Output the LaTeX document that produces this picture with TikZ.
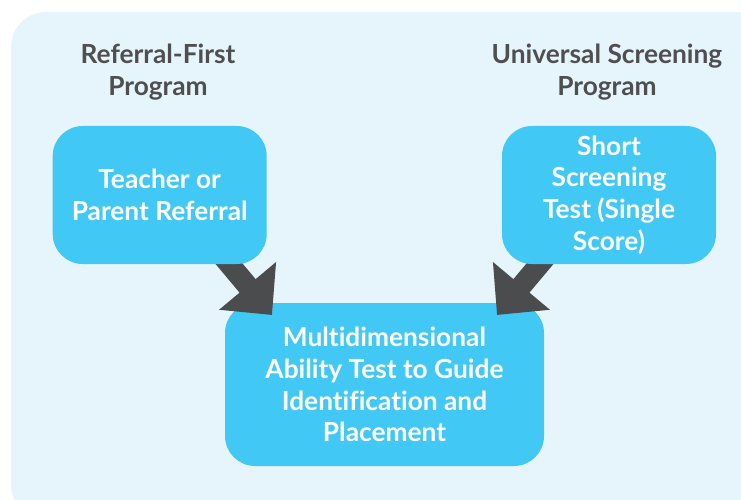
\documentclass[tikz,border=0pt]{standalone}
\usepackage{fontspec}
\setmainfont{Lato}[Ligatures=NoCommon]
\usetikzlibrary{arrows.meta}
\definecolor{bgblue}{HTML}{E6F5FC}
\definecolor{boxblue}{HTML}{42C8F4}
\definecolor{arrowgray}{HTML}{4B4C4E}
\definecolor{titlegray}{HTML}{4F4F51}
\tikzset{
  box/.style={rectangle, rounded corners=30pt, fill=boxblue, text=white,
    font=\bfseries\fontsize{26.3}{31.7}\selectfont, align=center, inner sep=0pt},
  title/.style={text=titlegray, font=\bfseries\fontsize{26.3}{31.7}\selectfont, align=center, inner sep=0pt},
  bigarrow/.style={draw=arrowgray, line width=21pt,
    -{Triangle[length=38pt,width=72pt]}}
}
\begin{document}
\begin{tikzpicture}[x=1pt,y=-1pt]
\useasboundingbox (0,0) rectangle (741,500);
\clip (0,0) rectangle (741,500);
\fill[bgblue, rounded corners=35pt] (11,12) rectangle (770,520);
% titles
\node[title] (t1) at (158,72) {Referral-First\\Program};
\node[title] (t2) at (607,72) {Universal Screening\\Program};
% bottom box
\node[box, minimum width=319pt, minimum height=163pt] (mid) at (384.5,384.5)
  {Multidimensional\\Ability Test to Guide\\Identification and\\Placement};
% arrows
\coordinate (la) at (220.6,253.7);
\coordinate (lt) at (272,315);
\coordinate (ra) at (548.4,253.7);
\coordinate (rt) at (497,315);
\draw[bigarrow] (la) -- (lt);
\draw[bigarrow] (ra) -- (rt);
% top boxes
\node[box, minimum width=214pt, minimum height=138pt] (ref) at (159.7,195)
  {Teacher or\\Parent Referral};
\node[box, minimum width=214pt, minimum height=138pt] (scr) at (609,195)
  {Short\\Screening\\Test (Single\\Score)};
\end{tikzpicture}
\end{document}
